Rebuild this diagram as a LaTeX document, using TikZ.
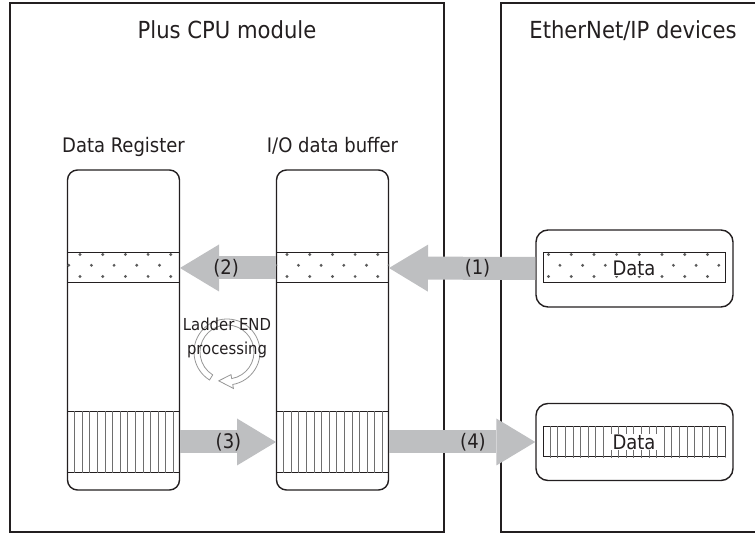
\documentclass[tikz,border=0pt]{standalone}
\usepackage{fontspec}
\setmainfont{DejaVu Sans Condensed}
\usepackage{tikz}
\usetikzlibrary{arrows.meta,positioning,calc}
\definecolor{framegray}{RGB}{35,31,32}
\definecolor{arrowgray}{RGB}{190,191,193}
\definecolor{dotgray}{RGB}{90,90,90}
\definecolor{hatchgray}{RGB}{110,110,110}
\definecolor{ringgray}{RGB}{150,150,150}

% dots in a strip: #1 node, #2 offset of the first dot
\newcommand{\stripdots}[2]{%
  \begin{scope}
    \clip (#1.south west) rectangle (#1.north east);
    \foreach \k in {0,...,8} {
      \fill[dotgray] ($(#1.north west)+(#2+22.7*\k,-2)$) circle (1.6);
      \fill[dotgray] ($(#1.north west)+(#2-11.3+22.7*\k,-12.8)$) circle (1.6);
      \fill[dotgray] ($(#1.north west)+(#2+22.7*\k,-24)$) circle (1.6);
    }
  \end{scope}}
% vertical hatch in a strip
\newcommand{\striphatch}[1]{%
  \begin{scope}
    \clip (#1.south west) rectangle (#1.north east);
    \foreach \k in {1,...,25}
      \draw[hatchgray,line width=0.65pt] ($(#1.south west)+(7.6*\k,-2)$) -- ++(0,80);
  \end{scope}}

\begin{document}
\begin{tikzpicture}[x=1pt,y=1pt,
  every node/.style={align=center,text=framegray,font=\fontsize{20}{24}\selectfont},
  title/.style={font=\fontsize{23.5}{28}\selectfont},
  module/.style={draw=framegray,line width=1.6pt,minimum height=529pt},
  column/.style={draw=framegray,fill=white,line width=1.4pt,rounded corners=10pt,minimum width=112pt,minimum height=320pt},
  strip/.style={draw=framegray,line width=1pt,inner sep=0pt,minimum width=112pt},
  device/.style={draw=framegray,line width=1.4pt,rounded corners=12pt,minimum width=197pt,minimum height=77pt},
  datastrip/.style={draw=framegray,line width=1pt,inner sep=0pt,minimum width=182pt,minimum height=30pt},
  datalabel/.style={fill=white,inner xsep=3pt,inner ysep=0.5pt},
  bigarrow/.style={draw=arrowgray,line width=23pt,-{Triangle[length=39pt,width=47pt,line width=0pt]}},
  ringline/.style={draw=ringgray,line width=0.8pt},
  ladder/.style={font=\fontsize{16.5}{24}\selectfont}]
  \useasboundingbox (0,0) rectangle (755,533);
  \clip (0,0) rectangle (755,533);

  % the two sides
  \node[module,minimum width=434pt] (cpu) at (227,265.5) {};
  \node[module,minimum width=264pt] (net) at (633,265.5) {};
  \node[title,below=36pt of cpu.north,anchor=base] (cputitle) {Plus CPU module};
  \node[title,below=36pt of net.north,anchor=base] (nettitle) {EtherNet/IP devices};

  % memory columns
  \node[column] (regcol) at (123.5,203) {};
  \node[column] (iocol) at (332.5,203) {};
  \node[above=17pt of regcol.north,anchor=base] (regtitle) {Data Register};
  \node[above=17pt of iocol.north,anchor=base] (iotitle) {I/O data buffer};

  \node[strip,minimum height=30pt] (regin) at (123.5,265) {};
  \node[strip,minimum height=30pt] (ioin) at (332.5,265) {};
  \node[strip,minimum height=60pt] (regout) at (123.5,91) {};
  \node[strip,minimum height=60pt] (ioout) at (332.5,91) {};
  \stripdots{regin}{13}
  \stripdots{ioin}{11}
  \striphatch{regout}
  \striphatch{ioout}

  % devices
  \node[device] (devin) at (634.5,264.5) {};
  \node[device] (devout) at (634.5,91) {};
  \node[datastrip] (devinstrip) at (634,265) {};
  \node[datastrip] (devoutstrip) at (634,91) {};
  \stripdots{devinstrip}{6}
  \striphatch{devoutstrip}
  \node[datalabel] (devintext) at (devinstrip) {Data};
  \node[datalabel] (devouttext) at (devoutstrip) {Data};

  % transfers
  \draw[bigarrow] (devin.west) -- node[pos=0.395] (l1) {(1)} (ioin.east);
  \draw[bigarrow] (ioin.west) -- node[pos=0.52] (l2) {(2)} (regin.east);
  \draw[bigarrow] (regout.east) -- node[pos=0.505] (l3) {(3)} (ioout.west);
  \draw[bigarrow] (ioout.east) -- node[pos=0.574] (l4) {(4)} (devout.west);

  % scan cycle
  \coordinate (ring) at (227,181);
  \draw[ringline] ($(ring)+(238:33)$) arc[start angle=238,end angle=-80,radius=33]
    -- ($(ring)+(-80:37)$) -- ($(ring)+(-106:30)$) -- ($(ring)+(-80:23)$)
    -- ($(ring)+(-80:27)$) arc[start angle=-80,end angle=238,radius=27] -- cycle;
  \node[ladder] (ladder) at (227,195) {Ladder END\\processing};
\end{tikzpicture}
\end{document}
